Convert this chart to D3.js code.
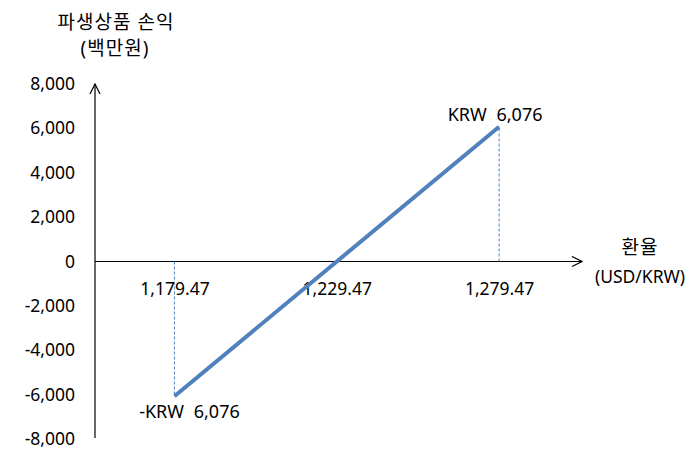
<!DOCTYPE html>
<html lang="ko">
<head>
<meta charset="UTF-8">
<title>파생상품 손익</title>
<style>
    body { margin: 0; background: #fff; }
    svg { display: block; }
    text { font-family: "Noto Sans", "Noto Sans CJK KR", sans-serif; font-size: 17.5px; fill: #000; }
    text.ko { font-size: 19px; letter-spacing: 1px; }
    text.pt { word-spacing: 5px; font-size: 18px; }
</style>
<script src="https://d3js.org/d3.v7.min.js"></script>
</head>
<body>
<svg width="697" height="455"></svg>
<script>
    // data
    const rates = [1179.47, 1279.47];
    const pnl = [-6076, 6076];
    const rateTicks = [1179.47, 1229.47, 1279.47];
    const pnlTicks = [8000, 6000, 4000, 2000, 0, -2000, -4000, -6000, -8000];
    const pointLabels = ['-KRW 6,076', 'KRW 6,076'];

    const svg = d3.select('svg');

    const x = d3.scaleLinear().domain([1155, 1305]).range([95, 582]);
    const y = d3.scaleLinear().domain([-8000, 8000]).range([439, 84]);

    // hyphen instead of unicode minus
    const fmtInt = d => d3.format(',')(d).replace('\u2212', '-');

    // open arrow heads
    const defs = svg.append('defs');
    defs.append('marker')
        .attr('id', 'arrow')
        .attr('viewBox', '0 0 12 12')
        .attr('refX', 11).attr('refY', 6)
        .attr('markerWidth', 12).attr('markerHeight', 12)
        .attr('markerUnits', 'userSpaceOnUse')
        .attr('orient', 'auto')
        .append('path')
        .attr('d', 'M1,1 L11,6 L1,11')
        .attr('fill', 'none')
        .attr('stroke', '#000')
        .attr('stroke-width', 1.2);

    // y labels
    const yAxis = svg.append('g')
        .attr('transform', `translate(${x.range()[0]},0)`)
        .call(d3.axisLeft(y).tickValues(pnlTicks).tickSize(0).tickPadding(20)
            .tickFormat(fmtInt));
    yAxis.select('.domain').remove();
    yAxis.selectAll('text').style('font-size', '17.5px').attr('font-family', null);

    // y axis line
    svg.append('line')
        .attr('x1', x.range()[0]).attr('x2', x.range()[0])
        .attr('y1', y(-8000) - 1).attr('y2', y(8000))
        .attr('stroke', '#000').attr('stroke-width', 1.2)
        .attr('marker-end', 'url(#arrow)');

    // x axis line
    svg.append('line')
        .attr('x1', x.range()[0]).attr('x2', x.range()[1])
        .attr('y1', y(0)).attr('y2', y(0))
        .attr('stroke', '#000').attr('stroke-width', 1.2)
        .attr('marker-end', 'url(#arrow)');

    // x labels
    const xAxis = svg.append('g')
        .attr('transform', `translate(0,${y(0)})`)
        .call(d3.axisBottom(x).tickValues(rateTicks).tickSize(0).tickPadding(21)
            .tickFormat(d3.format(',.2f')));
    xAxis.select('.domain').remove();
    xAxis.selectAll('text').style('font-size', '17.5px').attr('font-family', null);

    // dashed drop lines
    rates.forEach((r, i) => {
        svg.append('line')
            .attr('x1', x(r)).attr('x2', x(r))
            .attr('y1', y(0)).attr('y2', y(pnl[i]))
            .attr('stroke', '#4f81bd').attr('stroke-width', 1)
            .attr('stroke-dasharray', '3,2');
    });

    // payoff line
    const line = d3.line().x((d, i) => x(rates[i])).y(d => y(d));
    svg.append('path')
        .datum(pnl)
        .attr('d', line)
        .attr('fill', 'none')
        .attr('stroke', '#4f81bd')
        .attr('stroke-width', 4);

    // point labels
    svg.append('text').attr('class', 'pt')
        .attr('x', x(rates[0]) + 15).attr('y', y(pnl[0]) + 22)
        .attr('text-anchor', 'middle')
        .text(pointLabels[0]);
    svg.append('text').attr('class', 'pt')
        .attr('x', x(rates[1]) - 4).attr('y', y(pnl[1]) - 6)
        .attr('text-anchor', 'middle')
        .text(pointLabels[1]);

    // axis titles
    svg.append('text').attr('class', 'ko').attr('x', 116).attr('y', 29).attr('text-anchor', 'middle').text('파생상품 손익');
    svg.append('text').attr('class', 'ko').attr('x', 115).attr('y', 55).attr('text-anchor', 'middle').text('(백만원)');
    svg.append('text').attr('class', 'ko').attr('x', 640).attr('y', 254).attr('text-anchor', 'middle').text('환율');
    svg.append('text').attr('x', 640).attr('y', 283).attr('text-anchor', 'middle').text('(USD/KRW)');
</script>
</body>
</html>
